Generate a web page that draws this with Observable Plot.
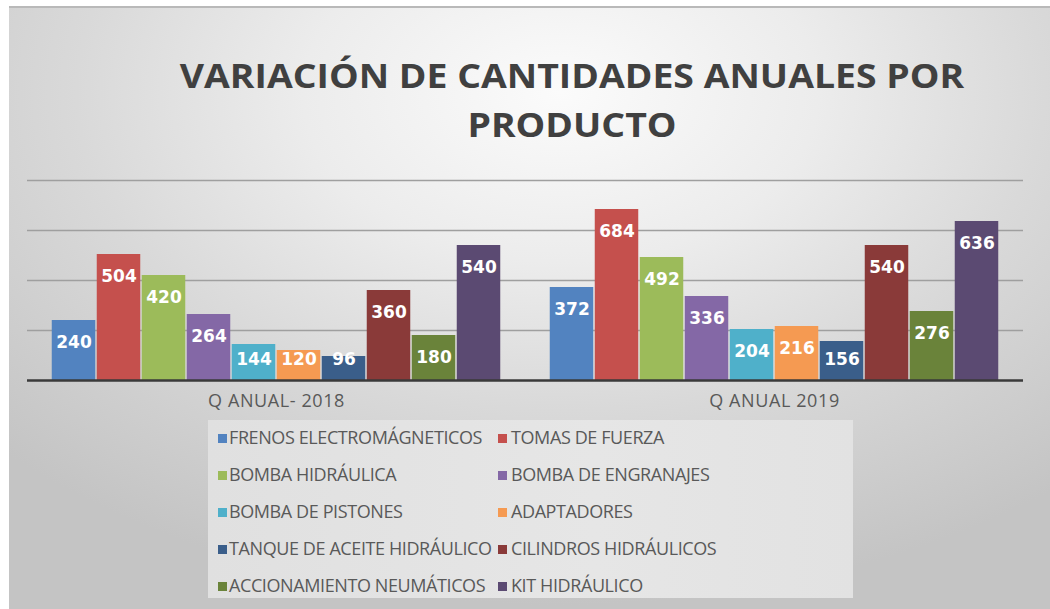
<!DOCTYPE html>
<html>
<head>
<meta charset="utf-8">
<script src="https://cdn.jsdelivr.net/npm/d3@7"></script>
<script src="https://cdn.jsdelivr.net/npm/@observablehq/plot@0.6"></script>
<style>
  html, body { margin: 0; padding: 0; width: 1050px; height: 609px; overflow: hidden; background: #ffffff; }
  #frame {
    position: absolute; left: 9px; top: 6px; width: 1041px; height: 603px;
    border-top: 2px solid #b9b9b9;
    background: radial-gradient(ellipse 75% 85% at 53% 14%, #fbfbfb 0%, #ececec 33%, #d9d9d9 62%, #c4c4c4 100%);
  }
  #title {
    position: absolute; left: 97px; top: 51px; width: 950px; text-align: center;
    font-family: "Open Sans", sans-serif; font-weight: 700; font-size: 34px; line-height: 49px;
    color: #404040; transform: scaleX(1.1); transform-origin: 475px 0;
  }
  #chart { position: absolute; left: 0; top: 150px; }
  #legend {
    position: absolute; left: 208px; top: 420px; width: 645px; height: 178px;
    background: linear-gradient(90deg, #e0e0e0, #e6e6e6 60%, #e2e2e2);
  }
  .item {
    position: absolute; height: 37px; line-height: 37px; white-space: nowrap;
    font-family: "Open Sans", sans-serif; font-size: 18px; letter-spacing: -0.4px; color: #595959;
  }
  .sw { position: absolute; width: 9px; height: 9px; top: 15px; }
  .lbl { position: absolute; }
</style>
</head>
<body>
<div id="frame"></div>
<div id="title">VARIACIÓN DE CANTIDADES ANUALES POR<br>PRODUCTO</div>
<div id="chart"></div>
<div id="legend"></div>
<script>
const years = ["Q ANUAL- 2018", "Q ANUAL 2019"];
const products = [
  "FRENOS ELECTROMÁGNETICOS",
  "TOMAS DE FUERZA",
  "BOMBA HIDRÁULICA",
  "BOMBA DE ENGRANAJES",
  "BOMBA DE PISTONES",
  "ADAPTADORES",
  "TANQUE DE ACEITE HIDRÁULICO",
  "CILINDROS HIDRÁULICOS",
  "ACCIONAMIENTO NEUMÁTICOS",
  "KIT HIDRÁULICO"
];
const values2018 = [240, 504, 420, 264, 144, 120, 96, 360, 180, 540];
const values2019 = [372, 684, 492, 336, 204, 216, 156, 540, 276, 636];
const colors = ["#5283c0", "#c5504d", "#9cbb5a", "#8468a6", "#4fb0ca", "#f59a52", "#3a5e8a", "#8a3a39", "#6a833a", "#5b4a72"];
const gridTicks = [200, 400, 600, 800];

const data = products.flatMap((p, i) => [
  {year: years[0], product: p, value: values2018[i]},
  {year: years[1], product: p, value: values2019[i]}
]);

const chart = Plot.plot({
  width: 1050,
  height: 280,
  marginLeft: 26,
  marginRight: 27,
  marginTop: 30,
  marginBottom: 50,
  style: {background: "transparent", overflow: "visible"},
  fx: {domain: years, padding: 0, axis: null},
  x: {domain: products, paddingInner: 0, paddingOuter: 0.418, axis: null},
  y: {domain: [0, 800], axis: null},
  color: {domain: products, range: colors},
  marks: [
    Plot.ruleY(gridTicks, {stroke: "#9f9f9f", strokeWidth: 1.5}),
    Plot.barY(data, {fx: "year", x: "product", y: "value", fill: "product", insetLeft: 0.75, insetRight: 0.75}),
    Plot.ruleY([0], {stroke: "#3a3a3a", strokeWidth: 2.5}),
    Plot.text(data, {
      fx: "year", x: "product",
      y: d => Math.max(d.value, 172), dy: 22,
      text: d => String(d.value),
      fill: "white", fontSize: 17, fontWeight: "bold", fontFamily: "DejaVu Sans"
    }),
    Plot.text(years, {
      fx: d => d, frameAnchor: "bottom", dy: 26, text: d => d,
      fill: "#595959", fontSize: 18, fontFamily: "Open Sans"
    })
  ]
});
d3.select(chart).selectAll("text")
  .filter(function() { return years.includes(this.textContent); })
  .style("letter-spacing", "0.6px");
document.getElementById("chart").appendChild(chart);

const legend = document.getElementById("legend");
products.forEach((p, i) => {
  const row = Math.floor(i / 2), col = i % 2;
  const item = document.createElement("div");
  item.className = "item";
  item.style.top = (row * 37 - 1.5) + "px";
  item.style.left = (col === 0 ? 10 : 290) + "px";
  const sw = document.createElement("span");
  sw.className = "sw";
  sw.style.left = "0px";
  sw.style.background = colors[i];
  const lbl = document.createElement("span");
  lbl.className = "lbl";
  lbl.style.left = (col === 0 ? 11 : 13) + "px";
  lbl.textContent = p;
  item.appendChild(sw);
  item.appendChild(lbl);
  legend.appendChild(item);
});
</script>
</body>
</html>
